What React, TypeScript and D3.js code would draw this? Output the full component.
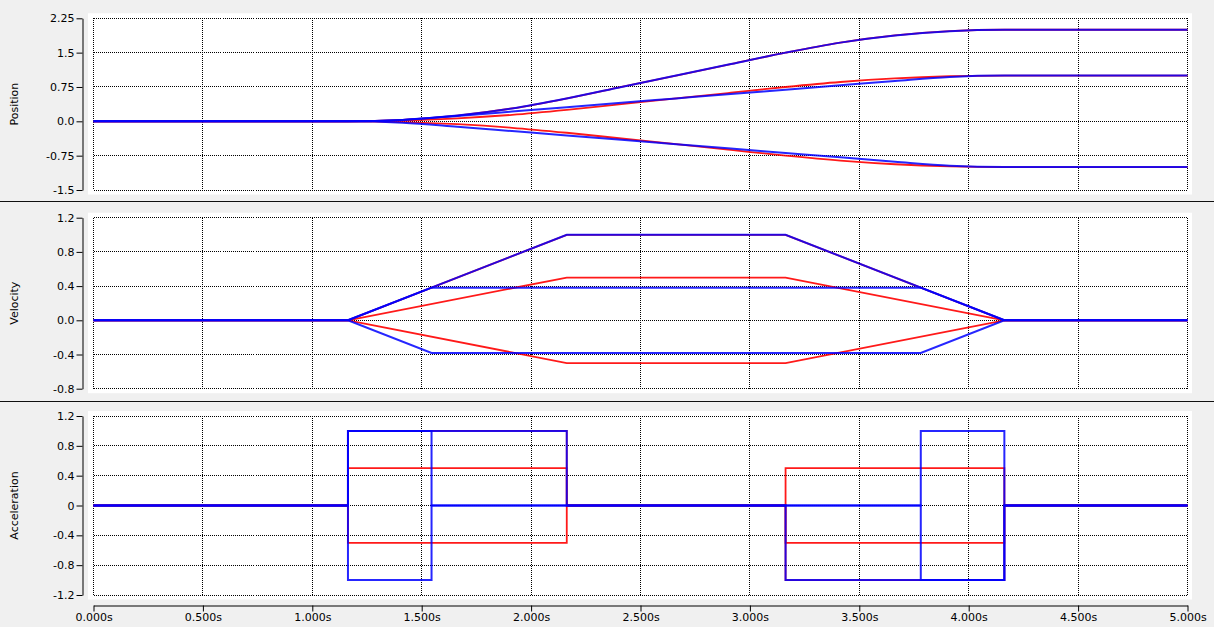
import React, { useEffect, useRef } from "react";
import * as d3 from "d3";

// ---- Axis ticks ----
const xTickValues = [0, 0.5, 1, 1.5, 2, 2.5, 3, 3.5, 4, 4.5, 5];
const xTickLabels = ["0.000s", "0.500s", "1.000s", "1.500s", "2.000s", "2.500s", "3.000s", "3.500s", "4.000s", "4.500s", "5.000s"];

const posTicks = [-1.5, -0.75, 0, 0.75, 1.5, 2.25];
const posTickLabels = ["-1.5", "-0.75", "0.0", "0.75", "1.5", "2.25"];
const velTicks = [-0.8, -0.4, 0, 0.4, 0.8, 1.2];
const velTickLabels = ["-0.8", "-0.4", "0.0", "0.4", "0.8", "1.2"];
const accTicks = [-1.2, -0.8, -0.4, 0, 0.4, 0.8, 1.2];
const accTickLabels = ["-1.2", "-0.8", "-0.4", "0", "0.4", "0.8", "1.2"];

// ---- Position (sampled) ----
const posTimes = [0, 1.163, 1.413, 1.663, 1.913, 2.163, 2.413, 2.663, 2.913, 3.163, 3.413, 3.663, 3.913, 4.163, 5.0];
const posRedA = [0, 0, 0.031, 0.125, 0.281, 0.5, 0.75, 1.0, 1.25, 1.5, 1.719, 1.875, 1.969, 2.0, 2.0];
const posRedB = [0, 0, 0.016, 0.063, 0.141, 0.25, 0.375, 0.5, 0.625, 0.75, 0.859, 0.938, 0.984, 1.0, 1.0];
const posRedC = [0, 0, -0.016, -0.063, -0.141, -0.25, -0.375, -0.5, -0.625, -0.75, -0.859, -0.938, -0.984, -1.0, -1.0];
const posBlueA = [0, 0, 0.031, 0.125, 0.281, 0.5, 0.75, 1.0, 1.25, 1.5, 1.719, 1.875, 1.969, 2.0, 2.0];
const posBlueB = [0, 0, 0.031, 0.118, 0.213, 0.309, 0.405, 0.5, 0.596, 0.691, 0.787, 0.882, 0.969, 1.0, 1.0];
const posBlueC = [0, 0, -0.031, -0.118, -0.213, -0.309, -0.405, -0.5, -0.596, -0.691, -0.787, -0.882, -0.969, -1.0, -1.0];

// ---- Velocity (breakpoints) ----
const velTimesLong = [0, 1.163, 2.163, 3.163, 4.163, 5.0];
const velTimesShort = [0, 1.163, 1.545, 3.781, 4.163, 5.0];
const velRedA = [0, 0, 1.0, 1.0, 0, 0];
const velRedB = [0, 0, 0.5, 0.5, 0, 0];
const velRedC = [0, 0, -0.5, -0.5, 0, 0];
const velBlueA = [0, 0, 1.0, 1.0, 0, 0];
const velBlueB = [0, 0, 0.382, 0.382, 0, 0];
const velBlueC = [0, 0, -0.382, -0.382, 0, 0];

// ---- Acceleration (steps, value holds until next time) ----
const accRedA = [0, 1.0, 0, -1.0, 0, 0];
const accRedB = [0, 0.5, 0, -0.5, 0, 0];
const accRedC = [0, -0.5, 0, 0.5, 0, 0];
const accBlueA = [0, 1.0, 0, -1.0, 0, 0];
const accBlueB = [0, 1.0, 0, -1.0, 0, 0];
const accBlueC = [0, -1.0, 0, 1.0, 0, 0];

const RED = "#ff0000";
const BLUE = "#0000ff";
const FONT = "DejaVu Sans";

type Series = { t: number[]; v: number[]; color: string };

export default function App() {
  const ref = useRef<SVGSVGElement>(null);

  useEffect(() => {
    const svg = d3.select(ref.current);
    svg.selectAll("*").remove();

    const x = d3.scaleLinear().domain([0, 5]).range([93.5, 1187.5]);

    const panels = [
      {
        label: "Position",
        domain: [-1.5, 2.25],
        range: [190, 18.3],
        ticks: posTicks,
        labels: posTickLabels,
        curve: d3.curveMonotoneX,
        series: [
          { t: posTimes, v: posRedA, color: RED },
          { t: posTimes, v: posRedB, color: RED },
          { t: posTimes, v: posRedC, color: RED },
          { t: posTimes, v: posBlueA, color: BLUE },
          { t: posTimes, v: posBlueB, color: BLUE },
          { t: posTimes, v: posBlueC, color: BLUE },
        ] as Series[],
      },
      {
        label: "Velocity",
        domain: [-0.8, 1.2],
        range: [388.7, 217.7],
        ticks: velTicks,
        labels: velTickLabels,
        curve: d3.curveLinear,
        series: [
          { t: velTimesLong, v: velRedA, color: RED },
          { t: velTimesLong, v: velRedB, color: RED },
          { t: velTimesLong, v: velRedC, color: RED },
          { t: velTimesLong, v: velBlueA, color: BLUE },
          { t: velTimesShort, v: velBlueB, color: BLUE },
          { t: velTimesShort, v: velBlueC, color: BLUE },
        ] as Series[],
      },
      {
        label: "Acceleration",
        domain: [-1.2, 1.2],
        range: [595, 416],
        ticks: accTicks,
        labels: accTickLabels,
        curve: d3.curveStepAfter,
        series: [
          { t: velTimesLong, v: accRedA, color: RED },
          { t: velTimesLong, v: accRedB, color: RED },
          { t: velTimesLong, v: accRedC, color: RED },
          { t: velTimesLong, v: accBlueA, color: BLUE },
          { t: velTimesShort, v: accBlueB, color: BLUE },
          { t: velTimesShort, v: accBlueC, color: BLUE },
        ] as Series[],
      },
    ];

    // background
    svg.append("rect").attr("x", 0).attr("y", 0).attr("width", 1214).attr("height", 627).attr("fill", "#f0f0f0");

    // separators
    [201.5, 401.5].forEach((yy) => {
      svg.append("line").attr("x1", 0).attr("x2", 1214).attr("y1", yy).attr("y2", yy)
        .attr("stroke", "#101010").attr("stroke-width", 1.2);
    });

    panels.forEach((p) => {
      const y = d3.scaleLinear().domain(p.domain).range(p.range);
      const top = p.range[1];
      const bottom = p.range[0];
      const g = svg.append("g");

      // white plot background
      g.append("rect")
        .attr("x", x(0) - 5.5).attr("y", top - 5)
        .attr("width", x(5) - x(0) + 10).attr("height", bottom - top + 9.5)
        .attr("fill", "#ffffff");

      // grid
      const grid = g.append("g").attr("stroke", "#000").attr("stroke-width", 1)
        .attr("stroke-dasharray", "1,1").attr("shape-rendering", "crispEdges");
      p.ticks.forEach((tv) => {
        grid.append("line").attr("x1", x(0)).attr("x2", x(5)).attr("y1", y(tv)).attr("y2", y(tv));
      });
      xTickValues.forEach((tv) => {
        grid.append("line").attr("x1", x(tv)).attr("x2", x(tv)).attr("y1", top).attr("y2", bottom);
      });

      // y axis
      const yAxis = d3.axisLeft(y)
        .tickValues(p.ticks)
        .tickFormat((_d, i) => p.labels[i])
        .tickSizeInner(6).tickSizeOuter(0).tickPadding(2);
      const ya = g.append("g").attr("transform", "translate(82.5,0)").call(yAxis);
      ya.attr("font-family", FONT).attr("font-size", 11);
      ya.selectAll("text").attr("fill", "#000");
      ya.selectAll("line,path").attr("stroke", "#000");

      // label
      g.append("text")
        .attr("transform", `translate(18,${(top + bottom) / 2}) rotate(-90)`)
        .attr("text-anchor", "middle")
        .attr("font-family", FONT).attr("font-size", 11).attr("fill", "#000")
        .text(p.label);

      // series
      const lineGen = d3.line<[number, number]>()
        .x((d) => x(d[0])).y((d) => y(d[1])).curve(p.curve);
      p.series.forEach((s) => {
        const pts: [number, number][] = s.t.map((tt, i) => [tt, s.v[i]]);
        g.append("path").attr("d", lineGen(pts) as string)
          .attr("fill", "none").attr("stroke", s.color)
          .attr("stroke-width", s.color === BLUE ? 2 : 1.8)
          .attr("stroke-opacity", s.color === BLUE ? 0.85 : 0.9)
          .attr("stroke-linejoin", "miter");
      });
    });

    // x axis
    const xAxis = d3.axisBottom(x)
      .tickValues(xTickValues)
      .tickFormat((_d, i) => xTickLabels[i])
      .tickSizeInner(6).tickSizeOuter(0).tickPadding(2);
    const xa = svg.append("g").attr("transform", "translate(0,605.5)").call(xAxis);
    xa.attr("font-family", FONT).attr("font-size", 11);
    xa.selectAll("text").attr("fill", "#000");
    xa.selectAll("line,path").attr("stroke", "#000");
  }, []);

  return (
    <div style={{ position: "fixed", left: 0, top: 0, width: 1214, height: 627, background: "#f0f0f0" }}>
      <svg ref={ref} width={1214} height={627} style={{ display: "block" }} />
    </div>
  );
}
